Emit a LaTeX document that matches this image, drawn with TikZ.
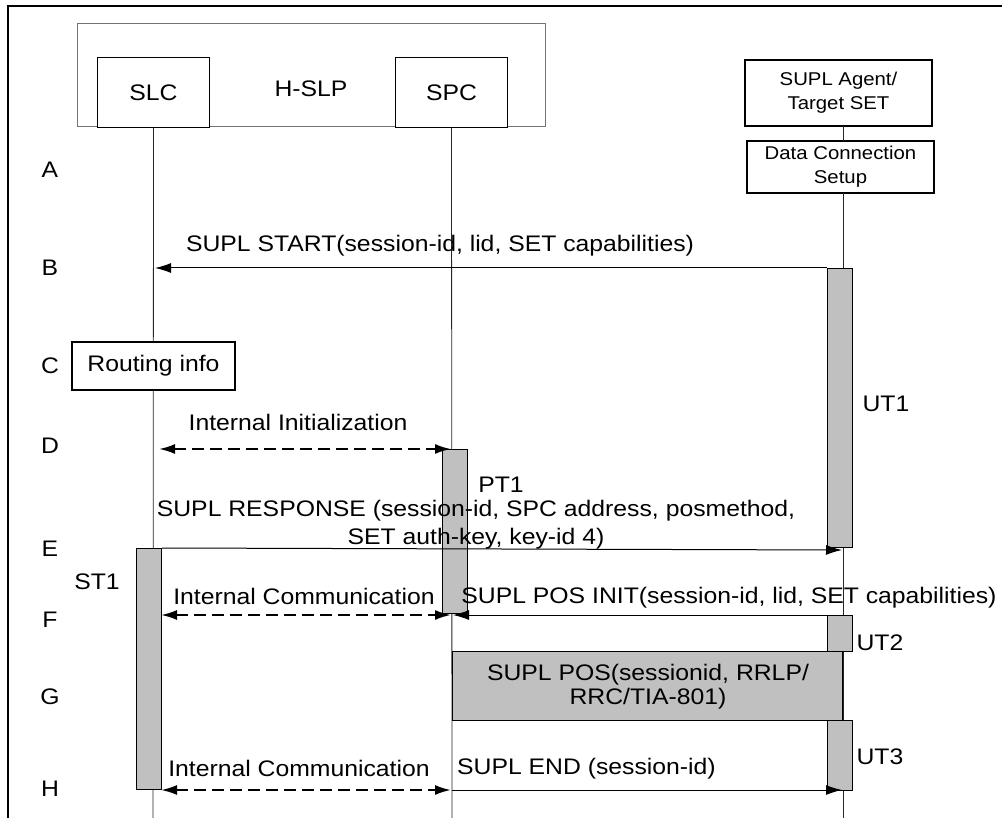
\documentclass[tikz,border=0pt]{standalone}
\usepackage{fontspec}
\setmainfont{Liberation Sans}[FakeStretch=1.1]
\usetikzlibrary{arrows.meta}
\definecolor{barGray}{HTML}{C0C0C0}
\tikzset{
  lbl/.style={font=\fontsize{22.5}{28}\selectfont, inner sep=0pt, align=center},
  smalllbl/.style={font=\fontsize{18.5}{24}\selectfont, inner sep=0pt, align=center},
  entbox/.style={draw, line width=1.2pt, fill=white, inner sep=0pt},
  groupbox/.style={draw=black!55, line width=1pt, inner sep=0pt},
  actbar/.style={draw, line width=1.2pt, fill=barGray, inner sep=0pt, anchor=north west},
  life/.style={line width=0.8pt, draw=black!85},
  msg/.style={line width=1pt, -{Latex[length=16pt,width=10pt]}},
  imsg/.style={line width=2pt, dash pattern=on 12pt off 6pt,
    {Latex[length=16pt,width=10pt]}-{Latex[length=16pt,width=10pt]}},
}
\begin{document}
\begin{tikzpicture}[x=1pt,y=-1pt]
\useasboundingbox (0,0) rectangle (1002,818);
% frame
\draw[line width=2.5pt] (8,818) -- (8,6) -- (1002,6);

% H-SLP group and entities
\node[groupbox, minimum width=468pt, minimum height=103pt] (hslp) at (311,75.5) {};
\node[lbl] (hslpT) at (311,89) {H-SLP};
\node[entbox, minimum width=112pt, minimum height=70pt, font=\fontsize{22.5}{28}\selectfont] (slc) at (153.5,92.5) {SLC};
\node[entbox, minimum width=112pt, minimum height=70pt, font=\fontsize{22.5}{28}\selectfont] (spc) at (451.5,92.5) {SPC};
\node[entbox, minimum width=187pt, minimum height=66pt, smalllbl] (agent) at (838.5,93) {SUPL Agent/\\Target SET};
\node[entbox, minimum width=187pt, minimum height=52pt, smalllbl] (data) at (840.5,167) {Data Connection\\Setup};

% lifeline coordinates
\coordinate (slcEnd) at (153,818);
\coordinate (spcEnd) at (452,818);
\coordinate (agTop) at (843,126);
\coordinate (agMid1) at (843,141);
\coordinate (agMid2) at (843,193);
\coordinate (agEnd) at (843,818);
\draw[life] (slc.south) -- (slcEnd);
\draw[life] (spc.south) -- (spcEnd);
\draw[life] (agTop) -- (agMid1);
\draw[life] (agMid2) -- (agEnd);

% routing info
\node[entbox, minimum width=163pt, minimum height=48pt, font=\fontsize{22.5}{28}\selectfont] (route) at (153.5,366) {Routing info};

% activation bars
\node[actbar, minimum width=25pt, minimum height=279pt] (ut1) at (827,268) {};
\node[actbar, minimum width=25pt, minimum height=164pt] (pt1) at (442,449) {};
\node[actbar, minimum width=25pt, minimum height=241pt] (st1) at (136,548) {};
\node[actbar, minimum width=25pt, minimum height=36pt] (ut2) at (827,615) {};
\node[actbar, minimum width=25pt, minimum height=70pt] (ut3) at (827,720) {};
\node[actbar, minimum width=390pt, minimum height=69pt] (pos) at (452,651) {};
\node[lbl, font=\fontsize{22.5}{24}\selectfont] (posT) at (648,687) {SUPL POS(sessionid, RRLP/\\RRC/TIA-801)};

% row labels
\node[lbl] (rA) at (50,170) {A};
\node[lbl] (rB) at (50,268) {B};
\node[lbl] (rC) at (50,366) {C};
\node[lbl] (rD) at (50,446) {D};
\node[lbl] (rE) at (50,549) {E};
\node[lbl] (rF) at (50,620) {F};
\node[lbl] (rG) at (50,697) {G};
\node[lbl] (rH) at (50,789) {H};

% timer labels
\node[lbl] (lUT1) at (886,404) {UT1};
\node[lbl] (lPT1) at (501,485) {PT1};
\node[lbl] (lST1) at (97,582) {ST1};
\node[lbl] (lUT2) at (880,643) {UT2};
\node[lbl] (lUT3) at (880,757) {UT3};

% message coordinates
\coordinate (slcB) at (155,268);
\coordinate (slcD) at (159,449);
\coordinate (spcD) at (451,449);
\coordinate (agE) at (842,550);
\coordinate (slcF) at (161,615);
\coordinate (spcF) at (451,615);
\coordinate (spcF2) at (453,615);
\coordinate (agF) at (843,615);
\coordinate (slcH) at (161,790);
\coordinate (spcH) at (451,790);
\coordinate (spcH2) at (452,790);
\coordinate (agH) at (842,790);

% messages
\draw[msg] (ut1.north west) -- (slcB);
\node[lbl] (mB) at (440,246) {SUPL START(session-id, lid, SET capabilities)};

\draw[imsg] (slcD) -- (spcD);
\node[lbl] (mD) at (298,422) {Internal Initialization};

\draw[msg] (st1.north east) -- (agE);
\node[lbl] (mE) at (476,525) {SUPL RESPONSE (session-id, SPC address, posmethod,\\SET auth-key, key-id 4)};

\draw[imsg] (slcF) -- (spcF);
\node[lbl] (mF1) at (304,596) {Internal Communication};
\draw[msg] (agF) -- (spcF2);
\node[lbl] (mF2) at (729,598) {SUPL POS INIT(session-id, lid, SET capabilities)};

\draw[imsg] (slcH) -- (spcH);
\node[lbl] (mH1) at (299,768) {Internal Communication};
\draw[msg] (spcH2) -- (agH);
\node[lbl, anchor=west] (mH2) at (457,769) {SUPL END (session-id)};
\end{tikzpicture}
\end{document}
